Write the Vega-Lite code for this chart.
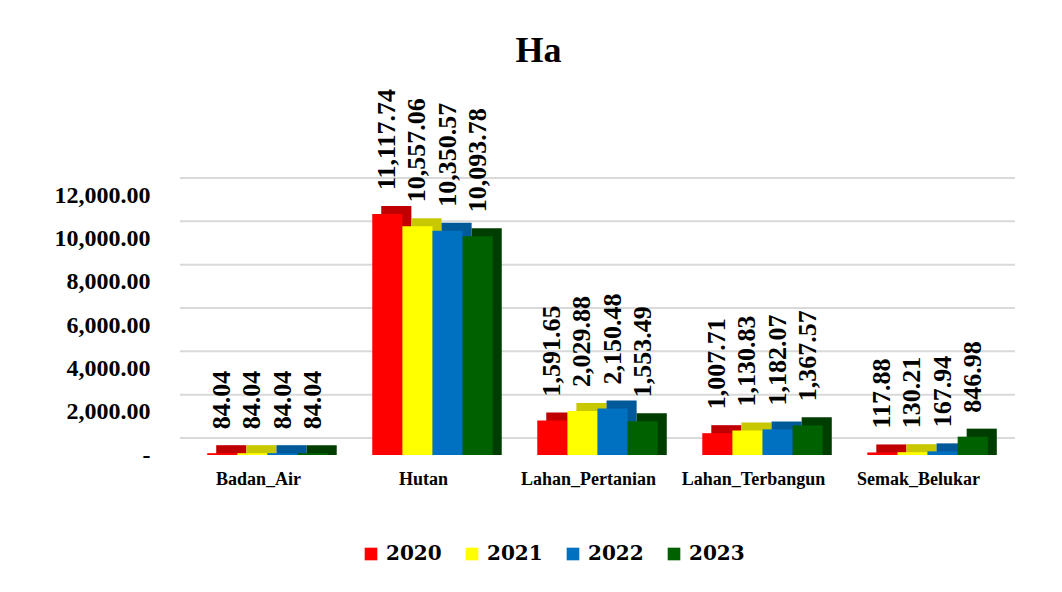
{
  "$schema": "https://vega.github.io/schema/vega-lite/v6.json",
  "autosize": {"type": "none"},
  "width": 835,
  "height": 260,
  "padding": {"left": 180, "top": 195, "right": 47, "bottom": 137},
  "background": "white",
  "title": {
    "text": "Ha",
    "font": "Liberation Serif",
    "fontSize": 36,
    "fontWeight": "bold",
    "color": "black",
    "frame": "group",
    "anchor": "middle",
    "baseline": "alphabetic",
    "offset": 26,
    "dy": 35,
    "dx": -59
  },
  "config": {
    "view": {"stroke": null},
    "font": "Liberation Serif"
  },
  "data": {
    "values": [
      {"kelas": "Badan_Air", "tahun": "2020", "ha": 84.04},
      {"kelas": "Badan_Air", "tahun": "2021", "ha": 84.04},
      {"kelas": "Badan_Air", "tahun": "2022", "ha": 84.04},
      {"kelas": "Badan_Air", "tahun": "2023", "ha": 84.04},
      {"kelas": "Hutan", "tahun": "2020", "ha": 11117.74},
      {"kelas": "Hutan", "tahun": "2021", "ha": 10557.06},
      {"kelas": "Hutan", "tahun": "2022", "ha": 10350.57},
      {"kelas": "Hutan", "tahun": "2023", "ha": 10093.78},
      {"kelas": "Lahan_Pertanian", "tahun": "2020", "ha": 1591.65},
      {"kelas": "Lahan_Pertanian", "tahun": "2021", "ha": 2029.88},
      {"kelas": "Lahan_Pertanian", "tahun": "2022", "ha": 2150.48},
      {"kelas": "Lahan_Pertanian", "tahun": "2023", "ha": 1553.49},
      {"kelas": "Lahan_Terbangun", "tahun": "2020", "ha": 1007.71},
      {"kelas": "Lahan_Terbangun", "tahun": "2021", "ha": 1130.83},
      {"kelas": "Lahan_Terbangun", "tahun": "2022", "ha": 1182.07},
      {"kelas": "Lahan_Terbangun", "tahun": "2023", "ha": 1367.57},
      {"kelas": "Semak_Belukar", "tahun": "2020", "ha": 117.88},
      {"kelas": "Semak_Belukar", "tahun": "2021", "ha": 130.21},
      {"kelas": "Semak_Belukar", "tahun": "2022", "ha": 167.94},
      {"kelas": "Semak_Belukar", "tahun": "2023", "ha": 846.98}
    ]
  },
  "encoding": {
    "x": {
      "field": "kelas",
      "type": "nominal",
      "sort": null,
      "scale": {"paddingInner": 0.27, "paddingOuter": 0.165},
      "axis": {
        "title": null,
        "labelAngle": 0,
        "labelFont": "Liberation Serif",
        "labelFontSize": 18,
        "labelFontWeight": "bold",
        "labelColor": "black",
        "labelPadding": 15,
        "labelOffset": -9,
        "ticks": false,
        "domain": false,
        "grid": false
      }
    },
    "y": {
      "field": "ha",
      "type": "quantitative",
      "scale": {"domain": [0, 12000], "nice": false},
      "axis": {
        "title": null,
        "values": [0, 2000, 4000, 6000, 8000, 10000, 12000],
        "labelExpr": "datum.value == 0 ? '-' : format(datum.value, ',.2f')",
        "labelFont": "Liberation Serif",
        "labelFontSize": 24,
        "labelFontWeight": "bold",
        "labelColor": "black",
        "labelPadding": 30,
        "ticks": false,
        "domain": false,
        "grid": false
      }
    }
  },
  "layer": [
    {
      "data": {"values": [{"g": 0}, {"g": 2000}, {"g": 4000}, {"g": 6000}, {"g": 8000}, {"g": 10000}, {"g": 12000}]},
      "mark": {"type": "rule", "color": "#d9d9d9", "strokeWidth": 2, "yOffset": -17, "x2Offset": 15},
      "encoding": {
        "x": null,
        "y": {"field": "g", "type": "quantitative"}
      }
    },
    {
      "mark": {"type": "bar", "yOffset": -8, "y2Offset": 0},
      "encoding": {
        "xOffset": {"field": "tahun", "type": "nominal", "scale": {"type": "band", "paddingInner": 0, "paddingOuter": 0, "range": [9, 129.5]}},
        "y2": {"datum": 0},
        "color": {
          "field": "tahun",
          "type": "nominal",
          "scale": {"domain": ["2020", "2021", "2022", "2023"], "range": ["#c00000", "#c8c800", "#005a9a", "#003d00"]},
          "legend": null
        }
      }
    },
    {
      "mark": {"type": "bar"},
      "encoding": {
        "xOffset": {"field": "tahun", "type": "nominal", "scale": {"type": "band", "paddingInner": 0, "paddingOuter": 0}},
        "color": {
          "field": "tahun",
          "type": "nominal",
          "scale": {"domain": ["2020", "2021", "2022", "2023"], "range": ["#ff0000", "#ffff00", "#0070c0", "#006100"]},
          "legend": {
            "title": null,
            "orient": "none",
            "direction": "horizontal",
            "legendX": 181,
            "legendY": 349,
            "symbolType": "square",
            "symbolSize": 160,
            "symbolStrokeWidth": 0,
            "labelFont": "DejaVu Serif",
            "labelFontSize": 20,
            "labelFontWeight": "bold",
            "labelColor": "black",
            "labelOffset": 5,
            "columnPadding": 20
          }
        }
      }
    },
    {
      "mark": {
        "type": "text",
        "angle": -90,
        "align": "left",
        "baseline": "middle",
        "dx": 24,
        "font": "Liberation Serif",
        "fontSize": 26,
        "fontWeight": "bold",
        "color": "black"
      },
      "encoding": {
        "xOffset": {"field": "tahun", "type": "nominal", "scale": {"type": "band", "paddingInner": 0, "paddingOuter": 0}},
        "text": {"field": "ha", "type": "quantitative", "format": ",.2f"}
      }
    }
  ],
  "resolve": {"scale": {"color": "independent", "xOffset": "independent"}}
}
